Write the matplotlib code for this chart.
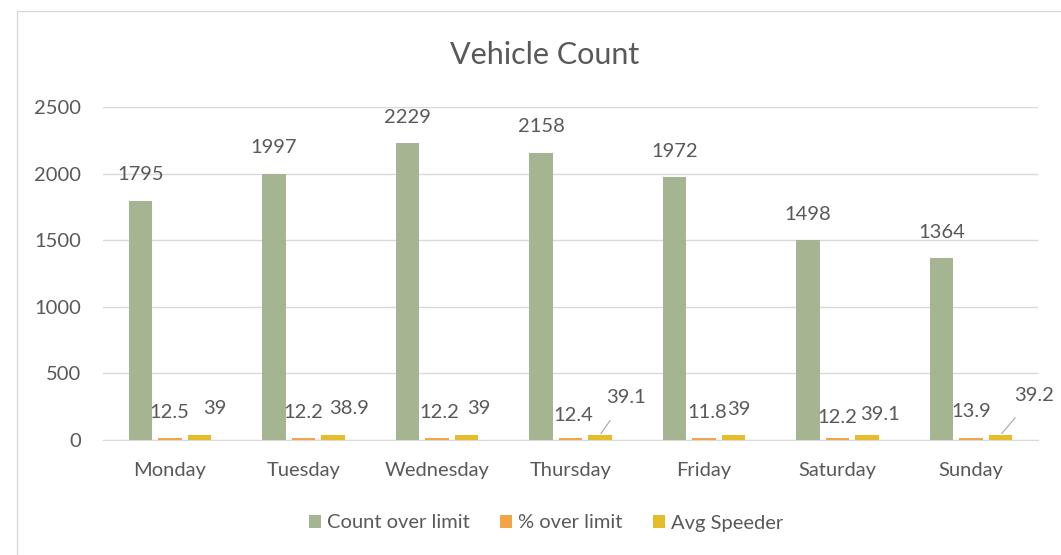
import numpy as np
import matplotlib
matplotlib.use("Agg")
from matplotlib import pyplot as plt
from matplotlib.patches import Rectangle

# 요일별 차량 데이터
days = ["Monday", "Tuesday", "Wednesday", "Thursday", "Friday", "Saturday", "Sunday"]
count_over_limit = [1795, 1997, 2229, 2158, 1972, 1498, 1364]
pct_over_limit = [12.5, 12.2, 12.2, 12.4, 11.8, 12.2, 13.9]
avg_speeder = [39, 38.9, 39, 39.1, 39, 39.1, 39.2]
y_ticks = [0, 500, 1000, 1500, 2000, 2500]

# 라벨 위치 조정 (픽셀 단위, 막대 꼭대기 기준)
pct_offsets = [(0, 26), (0, 26), (2, 26), (3, 23), (3, 26), (0, 21), (0, 27)]
avg_offsets = [(16, 26), (16, 26), (12, 26), (26, 37), (5, 25), (13, 20), (33, 39)]
avg_leader = [False, False, False, True, False, False, True]

green = "#A5B592"
orange = "#F3A447"
yellow = "#E7BC29"
text_col = "#595959"
grid_col = "#D9D9D9"

plt.rcParams["font.family"] = ["Lato", "DejaVu Sans"]
fs = 14.5

fig = plt.figure(figsize=(10.61, 5.55), dpi=100)
fig.patches.append(Rectangle((17 / 1061, -0.1), 1.2, 1 - 11 / 555 + 0.1,
                             transform=fig.transFigure, fill=False,
                             edgecolor=grid_col, lw=1))
ax = fig.add_axes([103 / 1061, 1 - 440 / 555, 935 / 1061, 333 / 555])

x = np.arange(len(days))
w = 0.176
step = 0.221
ax.bar(x - step, count_over_limit, w, color=green, label="Count over limit", zorder=3)
ax.bar(x, pct_over_limit, w, color=orange, label="% over limit", zorder=3)
ax.bar(x + step, avg_speeder, w, color=yellow, label="Avg Speeder", zorder=3)

ax.set_ylim(0, 2500)
ax.set_xlim(-0.5, len(days) - 0.5)
ax.set_yticks(y_ticks)
ax.set_xticks(x)
ax.set_xticklabels(days)
ax.tick_params(axis="both", length=0, labelsize=fs, colors=text_col)
ax.tick_params(axis="y", pad=16)
ax.tick_params(axis="x", pad=16)
ax.grid(axis="y", color=grid_col, lw=1, zorder=0)
for s in ["left", "right", "top"]:
    ax.spines[s].set_visible(False)
ax.spines["bottom"].set_color(grid_col)

lab_kw = dict(textcoords="offset pixels", ha="center", va="center",
              fontsize=fs, color=text_col, zorder=5)
for i, v in enumerate(count_over_limit):
    ax.annotate(f"{v}", (x[i] - step, v), xytext=(0, 26), **lab_kw)
for i, v in enumerate(pct_over_limit):
    ax.annotate(f"{v}", (x[i], v), xytext=pct_offsets[i], **lab_kw)
for i, v in enumerate(avg_speeder):
    txt = f"{v:g}"
    if avg_leader[i]:
        ax.annotate(txt, (x[i] + step, v), xytext=avg_offsets[i],
                    arrowprops=dict(arrowstyle="-", color="#A6A6A6", lw=0.8,
                                    shrinkA=10, shrinkB=1), **lab_kw)
    else:
        ax.annotate(txt, (x[i] + step, v), xytext=avg_offsets[i], **lab_kw)

fig.text(545 / 1061, 1 - 55 / 555, "Vehicle Count", ha="center", va="center",
         fontsize=22, color=text_col)

leg = fig.legend(loc="center", bbox_to_anchor=(546 / 1061, 1 - 523 / 555), ncol=3,
                 frameon=False, fontsize=fs, handlelength=0.6, handleheight=0.6,
                 handletextpad=0.3, columnspacing=1.5)
for t in leg.get_texts():
    t.set_color(text_col)

fig.savefig("out.png", dpi=100)
